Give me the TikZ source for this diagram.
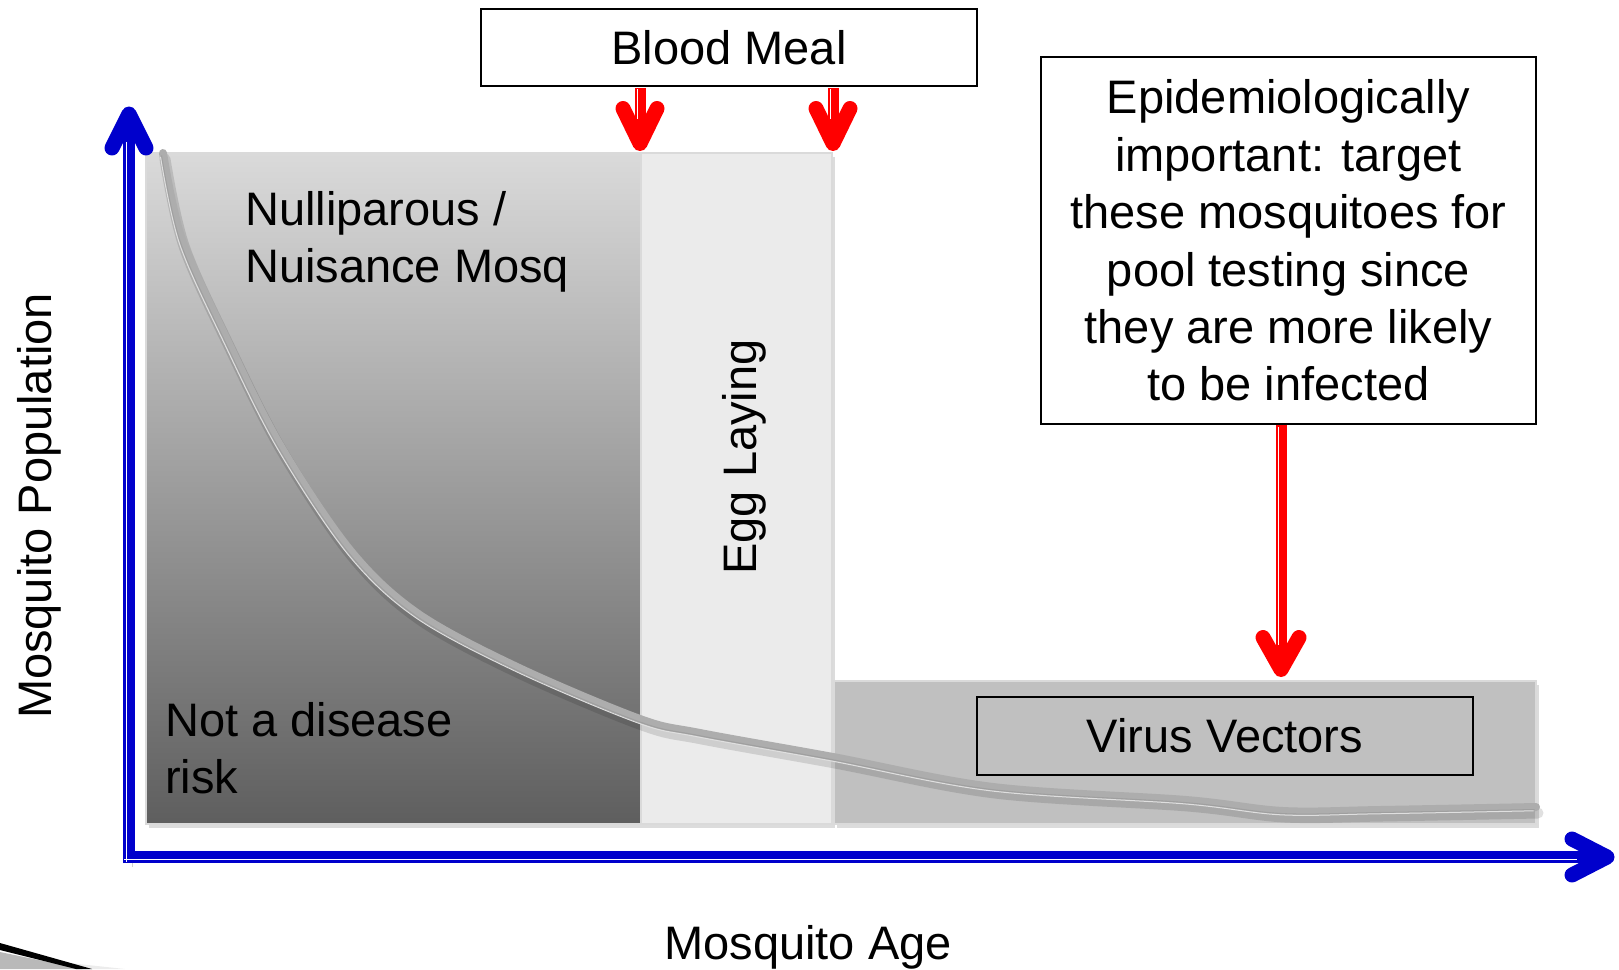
\documentclass[tikz,border=0pt]{standalone}
\usepackage{fontspec}
\setmainfont{Liberation Sans}
\usetikzlibrary{shadows,calc}
\definecolor{axisblue}{HTML}{0000CC}
\definecolor{arrred}{HTML}{FF0000}
\definecolor{egggray}{HTML}{EBEBEB}
\definecolor{virgray}{HTML}{C0C0C0}
\definecolor{rimgray}{HTML}{DADADA}
\definecolor{curvegray}{HTML}{ADADAD}
\begin{document}
\begin{tikzpicture}[x=1pt,y=-1pt,
  font=\fontsize{47}{57.4}\selectfont,
  sh/.style={preaction={draw=black,opacity=0.18,transform canvas={shift={(3pt,-4pt)}}}},
  boxsh/.style={drop shadow={opacity=0.28,shadow xshift=3pt,shadow yshift=-4pt}},
  region/.style={draw=rimgray,line width=2,inner sep=0,boxsh},
  textbox/.style={draw=black,line width=1.6,fill=white,inner sep=0,align=center},
  redstem/.style={draw=arrred,line width=11,sh},
  redhl/.style={draw=white,line width=1.6},
  chev/.style={line width=15,line cap=round,line join=round,sh},
  bluestem/.style={draw=axisblue,line width=12,sh},
  lbl/.style={inner sep=0}]
\useasboundingbox (0,0) rectangle (1619,969);

% bottom-left decoration
\fill[gray!55] (0,952) -- (82,969) -- (0,969) -- cycle;
\fill[gray!15] (60,962) -- (125,969) -- (85,969) -- cycle;
\fill[black] (0,943) -- (92,969) -- (76,969) -- (0,950) -- cycle;

% regions
\node[region,top color=rimgray,bottom color=black!63,minimum width=495,minimum height=671] (nul) at (393.5,488.5) {};
\node[region,fill=egggray,minimum width=191,minimum height=671] (egg) at (736.5,488.5) {};
\node[region,fill=virgray,minimum width=702,minimum height=143] (vir) at (1185,752.5) {};
\node[textbox,fill=virgray,minimum width=496,minimum height=78] (vv) at (1225,736) {Virus Vectors};

% curve
\def\curvepts{(163,153) (182,240) (227,340) (280,445) (350,550) (417,613) (517,667) (640,719) (700,733) (833,757) (993,787) (1186,800) (1283,811) (1380,810) (1536,807)}
\path[draw=black,opacity=0.12,line width=11,line cap=round,transform canvas={shift={(2pt,-6pt)}}]
  plot[smooth,tension=0.55] coordinates {\curvepts};
\draw[curvegray,line width=8,line cap=round]
  plot[smooth,tension=0.55] coordinates {\curvepts};
\draw[gray!75,line width=1,transform canvas={shift={(-1.5pt,-2.5pt)}}]
  plot[smooth,tension=0.55] coordinates {\curvepts};
\draw[gray!25,line width=1,transform canvas={shift={(-2.5pt,-3.8pt)}}]
  plot[smooth,tension=0.55] coordinates {\curvepts};

% texts in regions
\node[lbl,anchor=north west,align=left] (nultxt) at (245,191) {Nulliparous /\\Nuisance Mosq};
\node[lbl,anchor=north west,align=left] (risk) at (165,702) {Not a disease\\risk};
\node[lbl,rotate=90,anchor=base] (egglbl) at (756,457) {Egg Laying};

% boxes
\node[textbox,minimum width=496,minimum height=77] (bm) at (729,47.5) {Blood Meal};
\node[textbox,minimum width=495,minimum height=367] (epi) at (1288.5,240.5) {Epidemiologically\\important: target\\these mosquitoes for\\pool testing since\\they are more likely\\to be infected};

% red arrows from Blood Meal
\coordinate (t1) at ($(egg.north west)+(0,-8.5)$);
\coordinate (t2) at ($(egg.north east)+(0,-8.5)$);
\draw[redstem] ($(bm.south -| t1)+(0,1)$) -- (t1);
\draw[redhl] ($(bm.south -| t1)+(-2.4,2)$) -- ($(t1)+(-2.4,-25)$);
\draw[redstem] ($(bm.south -| t2)+(0,1)$) -- (t2);
\draw[redhl] ($(bm.south -| t2)+(-2.4,2)$) -- ($(t2)+(-2.4,-25)$);
\draw[chev,arrred] ($(t1)+(-17,-35)$) -- (t1) -- ($(t1)+(17,-35)$);
\draw[chev,arrred] ($(t2)+(-17,-35)$) -- (t2) -- ($(t2)+(17,-35)$);

% long red arrow
\coordinate (t3) at ($(vir.north)+(96,-10.5)$);
\draw[redstem] (epi.south -| t3) -- (t3);
\draw[redhl] ($(epi.south -| t3)+(-2.4,2)$) -- ($(t3)+(-2.4,-25)$);
\draw[chev,arrred] ($(t3)+(-18,-32)$) -- (t3) -- ($(t3)+(18,-32)$);

% axes
\coordinate (o) at (129,857);
\coordinate (ytip) at (129,114);
\coordinate (xtip) at (1607,857);
\draw[bluestem] ($(o)+(0,6)$) -- ($(ytip)+(0,6)$);
\draw[bluestem] ($(o)+(-6,0)$) -- ($(xtip)+(-6,0)$);
\draw[white,line width=1.6] ($(o)+(-2.6,5)$) -- ($(ytip)+(-2.6,28)$);
\draw[white,line width=1.6] ($(o)+(-5,2.6)$) -- ($(xtip)+(-30,2.6)$);
\draw[chev,axisblue] ($(ytip)+(-17,34)$) -- (ytip) -- ($(ytip)+(17,34)$);
\draw[chev,axisblue] ($(xtip)+(-35,-18)$) -- (xtip) -- ($(xtip)+(-35,18)$);

% axis labels
\node[lbl,anchor=base] (xlab) at (808,959) {Mosquito Age};
\node[lbl,rotate=90,anchor=base] (ylab) at (51,506) {Mosquito Population};
\end{tikzpicture}
\end{document}
